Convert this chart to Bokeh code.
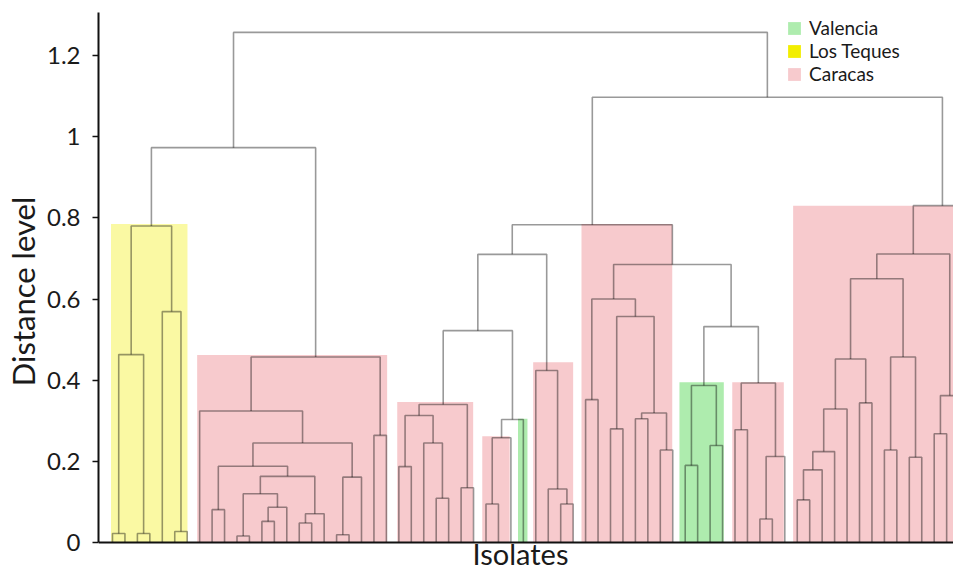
from bokeh.plotting import figure
from bokeh.models import (ColumnDataSource, FixedTicker, Label, Legend, LegendItem,
                          Range1d, PrintfTickFormatter, Span)
from bokeh.embed import file_html
from bokeh.resources import INLINE

# ---------------- data ----------------
# leaves in display order (isolates 1..70; the last two are cut off at the right edge)
leaf_ids = list(range(1, 71))

# agglomerative merges: (left child, right child, distance); ints = leaves, strings = merges
merge_name = ["y1", "y2", "y3", "y4", "y5", "y6",
              "a", "b", "c", "d", "e", "f", "g", "h", "i", "j", "k", "l", "m", "n", "o", "LEFT",
              "p1", "p2", "p3", "p4", "p5", "p6", "q1", "q2", "q3", "q4", "r1", "r2", "r3", "q5",
              "s1", "s2", "s3", "s4", "s5", "s6", "s7", "t1", "t2", "t3",
              "u1", "u2", "u3", "u4", "u5", "s8", "v",
              "w1", "w2", "w3", "w4", "w5", "w6", "w7", "w8", "w9", "w10", "w11", "w12", "w13", "w14",
              "RIGHT", "ROOT"]
merge_left = [1, 3, "y1", 6, 5, "y3",
              9, 11, 13, "c", "b", 16, "f", "e", "a", 19, "j", "i", 8, 22, "m", "y6",
              24, 27, 26, "p1", 29, "p4", 31, "q1", "q2", "p6", 37, 36, 35, "q4",
              39, 41, 43, 45, "s3", "s2", "s1", 47, 49, "t1",
              51, 53, "u2", "u1", "t3", "s7", "q5",
              56, "w1", "w2", "w3", 61, "w4", 63, 65, "w7", "w6", 67, "w11", "w10", "w13",
              "v", "LEFT"]
merge_right = [2, 4, "y2", 7, "y4", "y5",
               10, 12, 14, 15, "d", 17, 18, "g", "h", 20, 21, "k", "l", 23, "n", "o",
               25, 28, "p2", "p3", 30, "p5", 32, 33, 34, "q3", 38, "r1", "r2", "r3",
               40, 42, 44, 46, "s4", "s5", "s6", 48, 50, "t2",
               52, 54, 55, "u3", "u4", "u5", "s8",
               57, 58, 59, 60, 62, "w5", 64, 66, "w8", "w9", 68, 69, "w12", 70,
               "w14", "RIGHT"]
merge_height = [0.022, 0.022, 0.463, 0.027, 0.569, 0.780,
                0.081, 0.016, 0.052, 0.087, 0.120, 0.048, 0.071, 0.163, 0.188, 0.019, 0.161,
                0.245, 0.324, 0.264, 0.457, 0.973,
                0.187, 0.109, 0.245, 0.313, 0.135, 0.340, 0.095, 0.258, 0.303, 0.522,
                0.095, 0.132, 0.424, 0.710,
                0.352, 0.280, 0.305, 0.228, 0.319, 0.557, 0.600, 0.190, 0.239, 0.387,
                0.278, 0.058, 0.212, 0.393, 0.532, 0.685, 0.783,
                0.105, 0.179, 0.224, 0.329, 0.344, 0.452, 0.228, 0.210, 0.457, 0.650,
                0.268, 0.362, 0.711, 0.830,
                1.097, 1.257]

# shaded clusters (origin of isolates), in leaf units
region_group = ["Los Teques", "Caracas", "Caracas", "Caracas", "Valencia", "Caracas",
                "Caracas", "Valencia", "Caracas", "Caracas"]
region_left = [0.88, 7.80, 23.87, 30.70, 33.57, 34.79, 38.67, 46.54, 50.78, 55.67]
region_right = [7.00, 23.06, 29.97, 32.90, 34.33, 38.00, 45.96, 50.10, 54.92, 71.00]
region_top = [0.785, 0.462, 0.346, 0.262, 0.305, 0.444, 0.785, 0.395, 0.395, 0.830]

legend_groups = ["Valencia", "Los Teques", "Caracas"]

y_ticks = [0, 0.2, 0.4, 0.6, 0.8, 1.0, 1.2]
y_tick_labels = ["0", "0.2", "0.4", "0.6", "0.8", "1", "1.2"]

# ---------------- build dendrogram geometry ----------------
pos = {k: float(k) for k in leaf_ids}
hgt = {k: 0.0 for k in leaf_ids}
seg_xs, seg_ys = [], []
for nm, l, r, h in zip(merge_name, merge_left, merge_right, merge_height):
    xl, xr = pos[l], pos[r]
    seg_xs.append([xl, xl, xr, xr])
    seg_ys.append([hgt[l], h, h, hgt[r]])
    pos[nm] = (xl + xr) / 2.0
    hgt[nm] = h

FONT = "Lato"
group_fill = {"Valencia": "#aeecae", "Los Teques": "#f2ee00", "Caracas": "#f7cacd"}

p = figure(width=953, height=570, output_backend="svg", toolbar_location=None,
           x_range=Range1d(-0.124, 68.55), y_range=Range1d(-0.069, 1.306),
           min_border_left=98, min_border_right=0, min_border_top=12, min_border_bottom=0)
p.outline_line_color = None
p.xgrid.visible = False
p.ygrid.visible = False
p.xaxis.visible = False
p.background_fill_color = "white"
p.border_fill_color = "white"

renderers = {}
for g in legend_groups:
    idx = [i for i, rg in enumerate(region_group) if rg == g]
    src = ColumnDataSource(dict(
        left=[region_left[i] for i in idx],
        right=[region_right[i] for i in idx],
        top=[region_top[i] for i in idx],
        bottom=[0.0] * len(idx)))
    r = p.quad(left="left", right="right", top="top", bottom="bottom", source=src,
               fill_color=group_fill[g], line_color=None)
    renderers[g] = r
    if g == "Los Teques":
        p.quad(left="left", right="right", top="top", bottom="bottom", source=src,
               fill_color="white", fill_alpha=0.64, line_color=None)

p.multi_line(xs=seg_xs, ys=seg_ys, line_color="#000000", line_alpha=0.4, line_width=1.6)

# baseline (x axis line)
p.add_layout(Span(location=0, dimension="width", line_color="#111111", line_width=2))

# y axis
yax = p.yaxis[0]
yax.bounds = (0, 1.306)
yax.ticker = FixedTicker(ticks=y_ticks)
yax.formatter = PrintfTickFormatter(format="%g")
yax.major_label_overrides = {t: s for t, s in zip(y_ticks, y_tick_labels)}
yax.axis_line_width = 2
yax.axis_line_color = "#111111"
yax.major_tick_out = 6
yax.major_tick_in = 0
yax.major_tick_line_width = 1.5
yax.major_tick_line_color = "#111111"
yax.minor_tick_line_color = None
yax.major_label_text_font = FONT
yax.major_label_text_font_size = "24px"
yax.major_label_text_color = "#1a1a1a"
yax.major_label_standoff = 12
yax.axis_label = "Distance level"
yax.axis_label_text_font = FONT
yax.axis_label_text_font_size = "31px"
yax.axis_label_text_font_style = "normal"
yax.axis_label_text_color = "#1a1a1a"
yax.axis_label_standoff = 2

p.add_layout(Label(x=422, y=-0.026, x_units="screen", y_units="data", text="Isolates",
                   text_align="center", text_baseline="middle",
                   text_font=FONT, text_font_size="29px", text_color="#1a1a1a"))

legend = Legend(items=[LegendItem(label=g, renderers=[renderers[g]]) for g in legend_groups],
                location=(688, 485), orientation="vertical",
                background_fill_alpha=0, border_line_color=None, padding=0, margin=0,
                spacing=-2, label_height=20, glyph_height=16, glyph_width=16,
                label_standoff=7, label_text_font=FONT, label_text_font_size="19px",
                label_text_color="#1a1a1a")
p.add_layout(legend)

open("out.html", "w").write(file_html(p, INLINE))
